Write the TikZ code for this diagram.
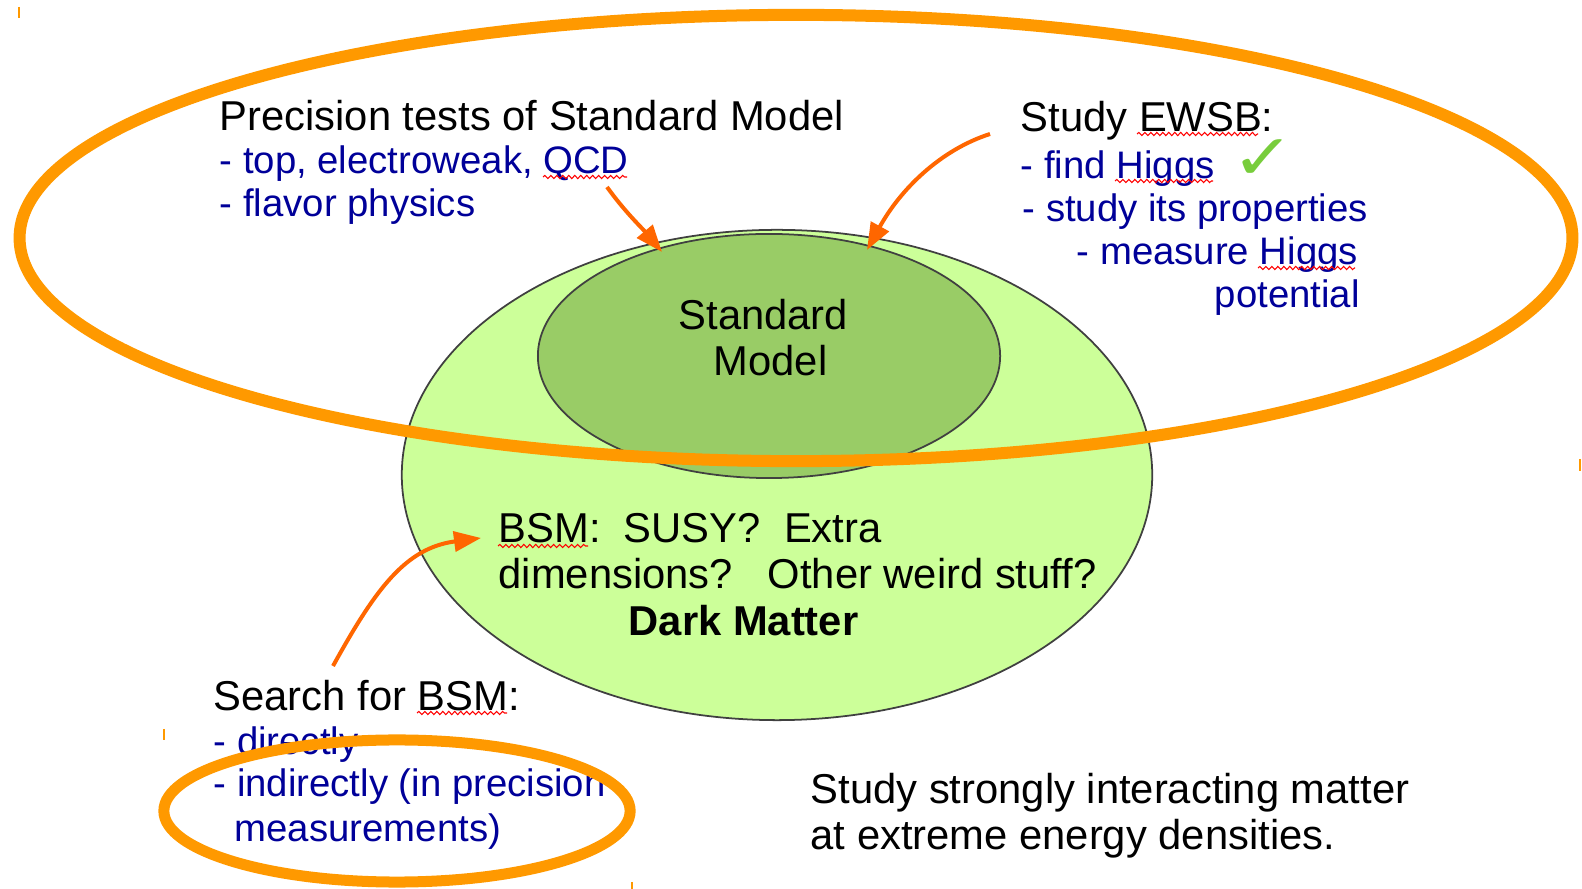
\documentclass[tikz,border=0pt]{standalone}
\usepackage{fontspec}
\setmainfont{Liberation Sans}
\newfontfamily\symfont{DejaVu Sans}
\usetikzlibrary{arrows.meta,decorations.pathmorphing}
\definecolor{hlorange}{RGB}{255,153,0}
\definecolor{arroworange}{RGB}{255,102,0}
\definecolor{lightgreen}{RGB}{204,255,153}
\definecolor{midgreen}{RGB}{153,204,102}
\definecolor{textblue}{RGB}{0,0,153}
\definecolor{checkgreen}{RGB}{120,205,60}
\tikzset{
  txt/.style={anchor=base west, inner sep=0pt, font=\fontsize{11.87}{14}\selectfont},
  btxt/.style={anchor=base west, inner sep=0pt, text=textblue, font=\fontsize{10.9}{13}\selectfont},
  halo/.style={draw=hlorange, line width=0.12cm},
  pointer/.style={draw=arroworange, line width=0.04cm, -{Triangle[length=0.27cm,width=0.2cm]}},
  squiggle/.style={draw=red, line width=0.3pt, decorate, decoration={snake, amplitude=0.45pt, segment length=1.7pt}},
  tickmark/.style={draw=hlorange, line width=0.6pt}
}
\begin{document}
\begin{tikzpicture}[x=0.01cm,y=-0.01cm]
\useasboundingbox (0,0) rectangle (1582,889);
% ellipses
\draw[fill=lightgreen, draw=black!75, line width=0.5pt] (777,475) ellipse [x radius=3.75cm, y radius=2.45cm];
\draw[fill=midgreen, draw=black!75, line width=0.5pt] (769,356) ellipse [x radius=2.31cm, y radius=1.22cm];
% Standard Model
\node[txt] (sm1) at (678,330) {Standard};
\node[txt] (sm2) at (713,376) {Model};
% Precision block
\node[txt] (p1) at (219,131) {Precision tests of Standard Model};
\node[btxt] (p2) at (219,174) {- top, electroweak, QCD};
\node[btxt] (p3) at (219,217) {- flavor physics};
% EWSB block
\node[txt] (e1) at (1020,132) {Study EWSB:};
\node[btxt] (e2) at (1020,179) {- find Higgs};
\node[btxt] (e3) at (1022,222) {- study its properties};
\node[btxt] (e4) at (1076,265) {- measure Higgs};
\node[btxt] (e5) at (1214,308) {potential};
\node[anchor=base, inner sep=0pt, text depth=0pt, text=checkgreen, xscale=1.2, transform shape, font=\symfont\fontsize{18}{18}\selectfont] (chk) at (1263,180) {✓};
% BSM block
\node[txt] (b1) at (498,543) {BSM:~~SUSY?~~Extra};
\node[txt] (b2) at (498,589) {dimensions?~~~Other weird stuff?};
\node[txt, font=\fontsize{11.87}{14}\selectfont\bfseries] (b3) at (628,636) {Dark Matter};
% Search block
\node[txt] (s1) at (213,711) {Search for BSM:};
\node[btxt] (s2) at (213,755) {- directly};
\node[btxt] (s3) at (213,797) {- indirectly (in precision};
\node[btxt] (s4) at (234,842) {measurements)};
% strongly interacting
\node[txt] (q1) at (810,804) {Study strongly interacting matter};
\node[txt] (q2) at (810,850) {at extreme energy densities.};
% spell-check squiggles
\draw[squiggle] (543,177) -- (627,177);
\draw[squiggle] (1137,134) -- (1258,134);
\draw[squiggle] (1115,181) -- (1213,181);
\draw[squiggle] (1258,268) -- (1355,268);
\draw[squiggle] (498,546) -- (588,546);
\draw[squiggle] (417,713) -- (507,713);
% arrows
\coordinate (a1s) at (607,187);
\coordinate (a1e) at (662,252);
\coordinate (a2s) at (990,134);
\coordinate (a2e) at (867,250);
\coordinate (a3s) at (333,666);
\coordinate (a3e) at (481,538);
\draw[pointer] (a1s) .. controls (625,212) and (642,228) .. (a1e);
\draw[pointer] (a2s) .. controls (940,150) and (900,190) .. (a2e);
\draw[pointer] (a3s) .. controls (375,590) and (405,548) .. (a3e);
% orange highlight ellipses
\draw[halo] (796,238) ellipse [x radius=7.76cm, y radius=2.23cm];
\draw[halo, line width=0.11cm] (397,811) ellipse [x radius=2.33cm, y radius=0.71cm];
% stray marks
\draw[tickmark] (19,7) -- (19,18);
\draw[tickmark] (1580,459) -- (1580,471);
\draw[tickmark] (164,729) -- (164,740);
\draw[tickmark] (632,882) -- (632,889);
\end{tikzpicture}
\end{document}
